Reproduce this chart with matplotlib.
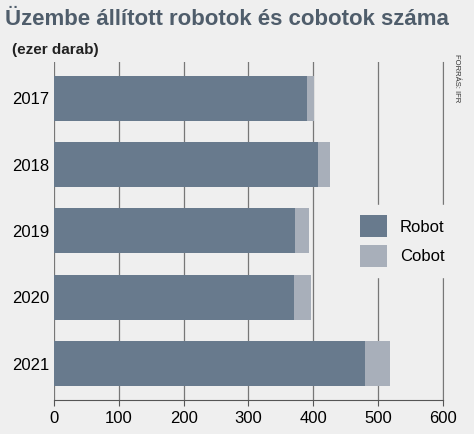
import matplotlib
matplotlib.use("Agg")
import matplotlib.pyplot as plt

plt.rcParams['font.family'] = ['Liberation Sans Narrow', 'Liberation Sans', 'DejaVu Sans']

years = ["2017", "2018", "2019", "2020", "2021"]
robot = [390, 407, 372, 370, 480]
cobot = [11, 19, 21, 27, 38]

bg = "#efefef"
fig = plt.figure(figsize=(4.74, 4.34), dpi=100, facecolor=bg)
ax = fig.add_axes([0.114, 0.078, 0.82, 0.78], facecolor=bg)
y = list(range(len(years)))
ax.barh(y, robot, height=0.68, color="#687a8d", zorder=3, label="Robot")
ax.barh(y, cobot, left=robot, height=0.68, color="#a8afba", zorder=3, label="Cobot")
ax.set_yticks(y)
ax.set_yticklabels(years, fontsize=12)
ax.set_ylim(len(years) - 0.45, -0.55)
ax.set_xlim(0, 600)
ax.set_xticks(range(0, 601, 100))
ax.tick_params(axis="x", labelsize=12, length=4, color="#555555")
ax.tick_params(axis="y", length=0)
ax.grid(axis="x", color="#777777", linewidth=0.9, zorder=1)
for s in ["top", "left"]:
    ax.spines[s].set_visible(False)
ax.spines["right"].set_color("#777777")
ax.spines["bottom"].set_color("#555555")
leg = ax.legend(loc="center left", bbox_to_anchor=(0.74, 0.47), frameon=True,
                fontsize=12, handlelength=1.6, handleheight=1.6,
                edgecolor=bg, facecolor=bg, framealpha=1, borderpad=0.6)
leg.set_zorder(5)
fig.text(0.01, 0.955, "Üzembe állított robotok és cobotok száma", fontsize=16,
         fontweight="bold", color="#4f5d6b", va="center")
fig.text(0.025, 0.885, "(ezer darab)", fontsize=11, fontweight="bold", color="#222222", va="center")
fig.text(0.955, 0.82, "FORRÁS: IFR", fontsize=5.5, rotation=270, color="#333333", va="center")
fig.savefig("out.png", dpi=100, facecolor=bg)
